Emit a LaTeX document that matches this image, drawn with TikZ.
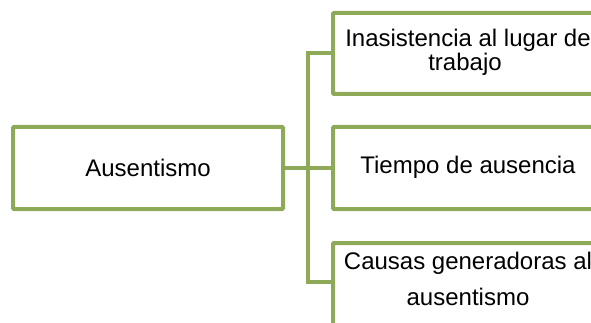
\documentclass[tikz,border=0pt]{standalone}
\usepackage{fontspec}
\setmainfont{Liberation Sans}
\definecolor{boxgreen}{RGB}{142,170,88}
\begin{document}
\begin{tikzpicture}[x=1pt,y=-1pt,
  box/.style={draw=boxgreen,line width=4pt,fill=white,rounded corners=1pt,
    minimum width=270pt,inner sep=0pt,outer sep=0pt,anchor=north west},
  txt/.style={inner sep=0pt,anchor=base,font=\fontsize{24}{24}\selectfont},
  link/.style={draw=boxgreen,line width=4pt}]
\clip (0,0) rectangle (591,323);
\useasboundingbox (0,0) rectangle (591,323);
\node[box,minimum height=82pt] (root) at (13,127) {};
\node[box,minimum height=81pt] (b1) at (333,13) {};
\node[box,minimum height=82pt] (b2) at (333,127) {};
\node[box,minimum height=82pt] (b3) at (333,243) {};
\node[txt] (t0) at (148,176.5) {Ausentismo};
\node[txt] (t1a) at (468,47) {Inasistencia al lugar de};
\node[txt] (t1b) at (465,71) {trabajo};
\node[txt] (t2) at (468,174) {Tiempo de ausencia};
\node[txt] (t3a) at (468,269) {Causas generadoras al};
\node[txt] (t3b) at (468,305) {ausentismo};
\coordinate (jt) at (308,53);
\coordinate (jm) at (308,168);
\coordinate (jb) at (308,282);
\coordinate (e1) at (b1.west |- jt);
\coordinate (e3) at (b3.west |- jb);
\draw[link] (root.east |- jm) -- (jm);
\draw[link] (e1) -- (jt) -- (jb) -- (e3);
\draw[link] (jm) -- (b2.west |- jm);
\end{tikzpicture}
\end{document}
